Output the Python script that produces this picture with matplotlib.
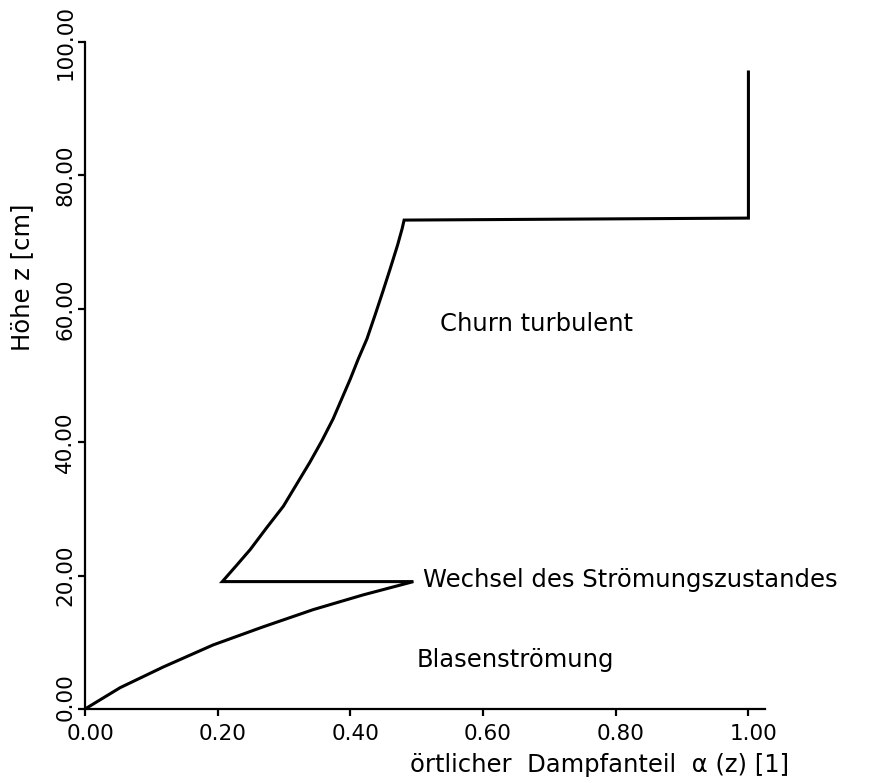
import matplotlib
matplotlib.use("Agg")
import matplotlib.pyplot as plt
from matplotlib.transforms import ScaledTranslation

# Data
alpha = [0.0, 0.053, 0.118, 0.193, 0.268, 0.344, 0.419, 0.495,
         0.207, 0.229, 0.249, 0.274, 0.299, 0.319, 0.339, 0.357, 0.374, 0.387,
         0.400, 0.412, 0.425, 0.437, 0.449, 0.460, 0.471, 0.478, 0.481,
         1.0, 1.0]
hoehe = [0.0, 3.2, 6.3, 9.6, 12.3, 14.9, 17.1, 19.1,
         19.1, 21.6, 23.9, 27.2, 30.4, 33.7, 37.0, 40.2, 43.5, 46.5,
         49.5, 52.5, 55.5, 59.0, 62.6, 66.0, 69.5, 72.0, 73.3,
         73.6, 95.5]

x_ticks = [0.0, 0.2, 0.4, 0.6, 0.8, 1.0]
x_ticklabels = ["0.00", "0.20", "0.40", "0.60", "0.80", "1.00"]
y_ticks = [0, 20, 40, 60, 80, 100]
y_ticklabels = ["0.00", "20.00", "40.00", "60.00", "80.00", "100.00"]

annotations = [
    ("Churn turbulent", 0.535, 57.7),
    ("Wechsel des Strömungszustandes", 0.51, 19.3),
    ("Blasenströmung", 0.50, 7.4),
]

plt.rcParams['font.family'] = ['DejaVu Sans']

fig = plt.figure(figsize=(8.74, 7.83), dpi=100)
ax = fig.add_axes([85/874, 1 - 709/783, 680/874, (709 - 42)/783])

ax.plot(alpha, hoehe, color='black', lw=2.2, solid_joinstyle='miter')

ax.set_xlim(0, 1.025)
ax.set_ylim(0, 100)
ax.spines['top'].set_visible(False)
ax.spines['right'].set_visible(False)
for s in ('left', 'bottom'):
    ax.spines[s].set_linewidth(1.6)

ax.set_xticks(x_ticks)
ax.set_xticklabels(x_ticklabels, fontsize=15.5)
ax.set_yticks(y_ticks)
ax.set_yticklabels(y_ticklabels, fontsize=15.5, rotation=90, va='center')
ax.tick_params(axis='both', direction='out', length=5, width=1.6)
ax.tick_params(axis='x', pad=6)
ax.tick_params(axis='y', pad=2)

# small offsets of tick labels as in the original drawing
for lab in ax.get_xticklabels():
    lab.set_transform(lab.get_transform() + ScaledTranslation(5/100, 0, fig.dpi_scale_trans))
ylabs = ax.get_yticklabels()
ylabs[0].set_transform(ylabs[0].get_transform() + ScaledTranslation(0, 12/100, fig.dpi_scale_trans))

for txt, x, y in annotations:
    ax.text(x, y, txt, fontsize=17.5, ha='left', va='center')

ax.set_xlabel("örtlicher  Dampfanteil  α (z) [1]", fontsize=17.5)
ax.xaxis.set_label_coords(0.757, -0.084)
ax.xaxis.label.set_va('center')
ax.set_ylabel("Höhe z [cm]", fontsize=17.5)
ax.yaxis.set_label_coords(-0.093, 0.648)
ax.yaxis.label.set_va('center')

fig.savefig("out.png", dpi=100)
